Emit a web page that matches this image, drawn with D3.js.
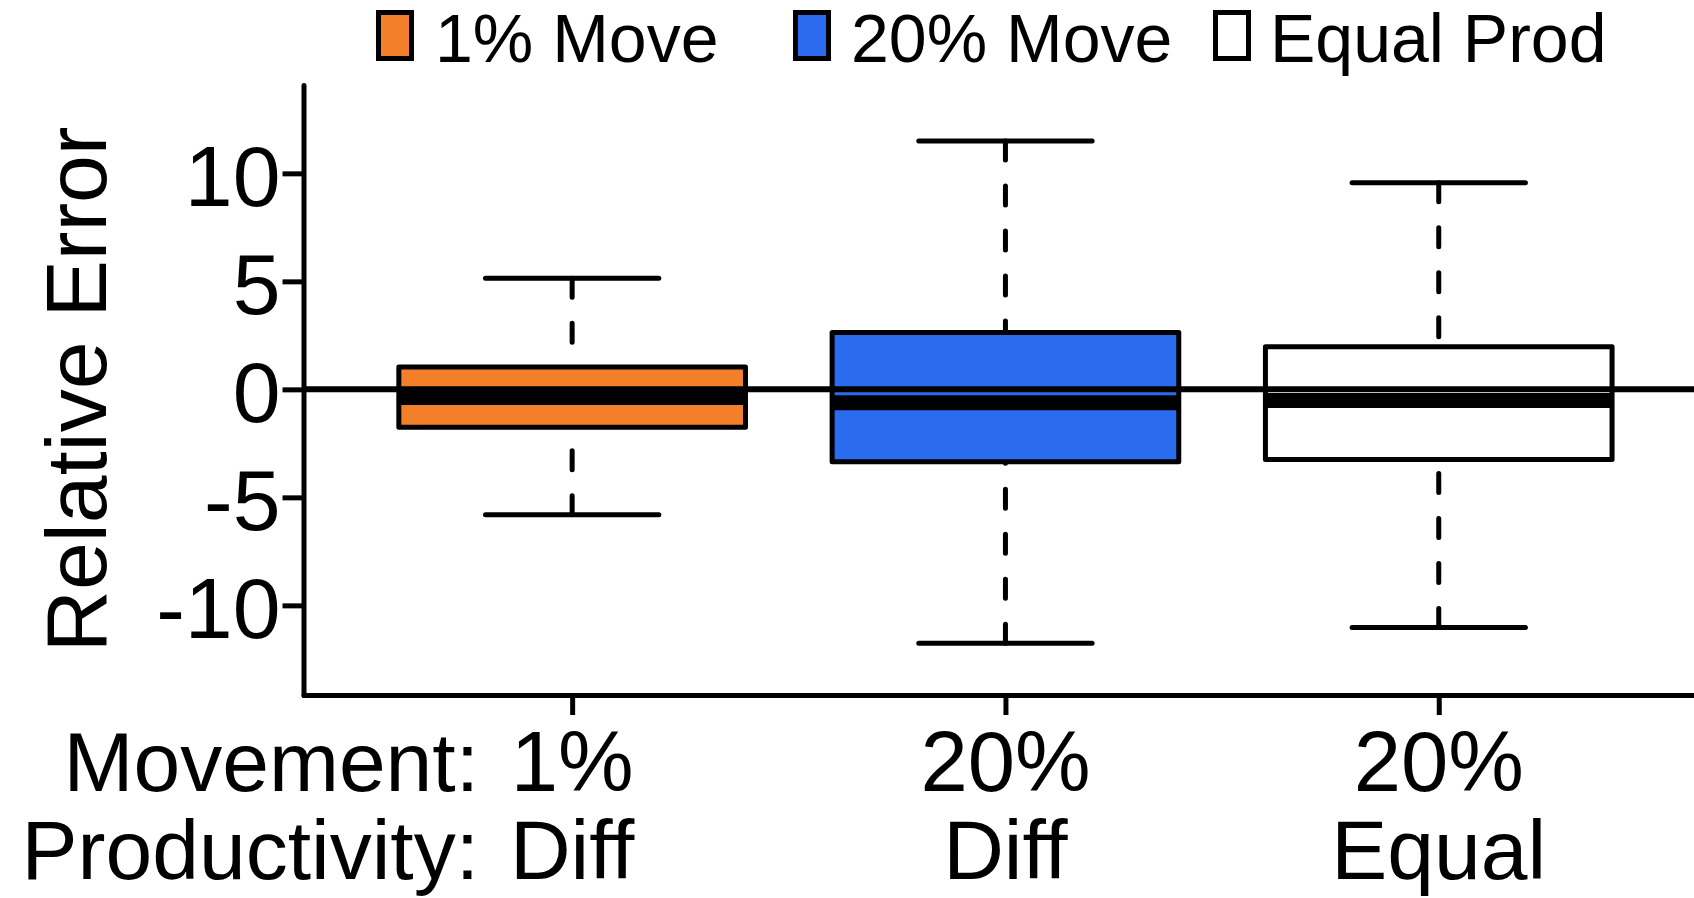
<!DOCTYPE html>
<html>
<head>
<meta charset="utf-8">
<script src="https://cdn.jsdelivr.net/npm/d3@7"></script>
<style>
  html, body { margin: 0; padding: 0; background: #ffffff; }
  svg { display: block; font-family: "Liberation Sans", Arial, Helvetica, sans-serif; }
</style>
</head>
<body>
<svg id="chart" width="1694" height="898"></svg>
<script>
// Box-plot summaries of relative error for each scenario
const groups = ["1% Move", "20% Move", "Equal Prod"];
const movementLabels = ["1%", "20%", "20%"];
const productivityLabels = ["Diff", "Diff", "Equal"];
const lowerWhisker = [-5.80, -11.75, -11.02];
const lowerHinge = [-1.76, -3.35, -3.25];
const medians = [-0.38, -0.62, -0.52];
const upperHinge = [1.04, 2.63, 1.97];
const upperWhisker = [5.14, 11.50, 9.57];
const fillColors = ["#F47F2B", "#2A6BEF", "#FFFFFF"];
const yTicks = [-10, -5, 0, 5, 10];
const xTicks = [1, 2, 3];

const svg = d3.select("#chart");
const LW = 5;             // base line width
const boxWidth = 0.8;     // in category units
const stapleWidth = 0.4;  // half the box width

const x = d3.scaleLinear().domain([0.38, 3.62]).range([303.5, 303.5 + 3.24 * 433.3]);
const y = d3.scaleLinear().domain([-14.15, 14.09]).range([695, 85]);

const data = groups.map((g, i) => ({
  name: g, pos: xTicks[i],
  lw: lowerWhisker[i], lh: lowerHinge[i], med: medians[i],
  uh: upperHinge[i], uw: upperWhisker[i], fill: fillColors[i]
}));

// Boxes
const bx = svg.append("g").attr("class", "boxes");
const item = bx.selectAll("g").data(data).join("g");

// whiskers: dashed, drawn from staple toward hinge
item.append("line")
  .attr("x1", d => x(d.pos)).attr("x2", d => x(d.pos))
  .attr("y1", d => y(d.uw)).attr("y2", d => y(d.uh))
  .attr("stroke", "#000").attr("stroke-width", LW)
  .attr("stroke-dasharray", "19,26").attr("stroke-linecap", "round");
item.append("line")
  .attr("x1", d => x(d.pos)).attr("x2", d => x(d.pos))
  .attr("y1", d => y(d.lw)).attr("y2", d => y(d.lh))
  .attr("stroke", "#000").attr("stroke-width", LW)
  .attr("stroke-dasharray", "19,26").attr("stroke-linecap", "round");

// staples
["uw", "lw"].forEach(k => {
  item.append("line")
    .attr("x1", d => x(d.pos - stapleWidth / 2)).attr("x2", d => x(d.pos + stapleWidth / 2))
    .attr("y1", d => y(d[k])).attr("y2", d => y(d[k]))
    .attr("stroke", "#000").attr("stroke-width", LW).attr("stroke-linecap", "round");
});

// box
item.append("rect")
  .attr("x", d => x(d.pos - boxWidth / 2))
  .attr("width", d => x(d.pos + boxWidth / 2) - x(d.pos - boxWidth / 2))
  .attr("y", d => y(d.uh))
  .attr("height", d => y(d.lh) - y(d.uh))
  .attr("fill", d => d.fill)
  .attr("stroke", "#000").attr("stroke-width", LW).attr("stroke-linejoin", "round");

// median
item.append("line")
  .attr("x1", d => x(d.pos - boxWidth / 2)).attr("x2", d => x(d.pos + boxWidth / 2))
  .attr("y1", d => y(d.med)).attr("y2", d => y(d.med))
  .attr("stroke", "#000").attr("stroke-width", LW * 3).attr("stroke-linecap", "butt");

// reference line at zero
svg.append("line")
  .attr("x1", x(0.38)).attr("x2", x(3.62))
  .attr("y1", y(0)).attr("y2", y(0))
  .attr("stroke", "#000").attr("stroke-width", 6);

// Y axis
const yAxis = svg.append("g")
  .attr("transform", `translate(${x(0.38)},0)`)
  .call(d3.axisLeft(y).tickValues(yTicks).tickSize(21).tickSizeOuter(0).tickPadding(2)
        .tickFormat(d => String(d).replace("\u2212", "-")));
yAxis.select(".domain").attr("stroke", "#000").attr("stroke-width", LW).attr("stroke-linecap", "round");
yAxis.selectAll(".tick line").attr("stroke", "#000").attr("stroke-width", LW);
yAxis.selectAll(".tick text")
  .attr("font-size", 86).attr("font-family", "Liberation Sans, Arial, sans-serif")
  .attr("fill", "#000").attr("dy", "0.37em");

// X axis
const xAxis = svg.append("g")
  .attr("transform", `translate(0,${y(-14.15)})`)
  .call(d3.axisBottom(x).tickValues(xTicks).tickSize(20).tickSizeOuter(0).tickFormat(""));
xAxis.select(".domain").attr("stroke", "#000").attr("stroke-width", LW).attr("stroke-linecap", "round");
xAxis.selectAll(".tick line").attr("stroke", "#000").attr("stroke-width", LW);

// Category labels (two rows)
const labelFont = 85;
svg.append("g").selectAll("text").data(movementLabels).join("text")
  .attr("x", (d, i) => x(xTicks[i])).attr("y", 791)
  .attr("text-anchor", "middle").attr("font-size", labelFont).attr("fill", "#000")
  .text(d => d);
svg.append("g").selectAll("text").data(productivityLabels).join("text")
  .attr("x", (d, i) => x(xTicks[i])).attr("y", 879)
  .attr("text-anchor", "middle").attr("font-size", 84).attr("fill", "#000")
  .text(d => d);
svg.append("text").attr("x", 479).attr("y", 791).attr("text-anchor", "end")
  .attr("font-size", 84).attr("fill", "#000").text("Movement:");
svg.append("text").attr("x", 479).attr("y", 879).attr("text-anchor", "end")
  .attr("font-size", 84).attr("fill", "#000").text("Productivity:");

// Y axis title
svg.append("text")
  .attr("transform", `translate(106,${y(0)}) rotate(-90)`)
  .attr("text-anchor", "middle").attr("font-size", 86).attr("fill", "#000")
  .text("Relative Error");

// Legend along the top
const legendX = [376, 793, 1213];
const legend = svg.append("g").selectAll("g").data(groups).join("g")
  .attr("transform", (d, i) => `translate(${legendX[i]},0)`);
legend.append("rect")
  .attr("x", 2.5).attr("y", 12.5).attr("width", 33).attr("height", 46)
  .attr("fill", (d, i) => fillColors[i]).attr("stroke", "#000").attr("stroke-width", LW);
legend.append("text")
  .attr("x", (d, i) => [59, 58, 57][i]).attr("y", 62)
  .attr("font-size", 68).attr("fill", "#000")
  .text(d => d);
</script>
</body>
</html>
